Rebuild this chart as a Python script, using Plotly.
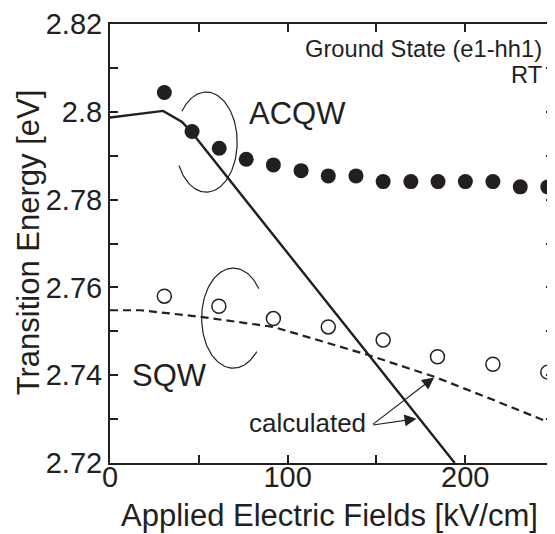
import numpy as np
import plotly.graph_objects as go

# ---- data ----
acqw_field = [30.6, 46.2, 61.5, 76.7, 92.0, 107.6, 122.9, 138.5, 153.8, 169.4, 184.7, 200.1, 215.6, 231.0, 246.5]
acqw_energy = [2.8044, 2.7955, 2.7917, 2.7892, 2.7879, 2.7866, 2.7854, 2.7854, 2.7841, 2.7841, 2.7841, 2.7841, 2.7841, 2.7829, 2.7829]

sqw_field = [30.6, 61.3, 92.0, 122.9, 153.8, 184.4, 215.6, 246.5]
sqw_energy = [2.7580, 2.7557, 2.7529, 2.7510, 2.7480, 2.7442, 2.7425, 2.7407]

acqw_calc_field = [0, 29.9, 40.6, 46.2, 194.1]
acqw_calc_energy = [2.7987, 2.8002, 2.7977, 2.7952, 2.7200]

sqw_calc_field = [0, 17.1, 50.8, 92.0, 145.4, 182.9, 215.0, 250.0]
sqw_calc_energy = [2.7548, 2.7548, 2.7533, 2.7510, 2.7446, 2.7396, 2.7345, 2.7288]

x_ticks = [0, 50, 100, 150, 200, 250]
x_labels = ["0", "", "100", "", "200", ""]
y_ticks = [2.72, 2.73, 2.74, 2.75, 2.76, 2.77, 2.78, 2.79, 2.80, 2.81, 2.82]
y_labels = ["2.72", "", "2.74", "", "2.76", "", "2.78", "", "2.8", "", "2.82"]

INK = "#231f20"
FONT = "Liberation Sans, Arial, Helvetica, sans-serif"

fig = go.Figure()

# ellipse "bracket" arcs (decorations)
def arc(cx, cy, rx, ry, a0, a1):
    t = np.radians(np.linspace(a0, a1, 120))
    return cx + rx * np.cos(t), cy + ry * np.sin(t)

ex, ey = arc(54.2, 2.7931, 17.4, 0.0114, -152, 142)
fig.add_trace(go.Scatter(x=ex, y=ey, mode="lines", line=dict(color=INK, width=1.2),
                         hoverinfo="skip", showlegend=False))
sx, sy = arc(69.4, 2.7530, 17.8, 0.0114, 36, 318)
fig.add_trace(go.Scatter(x=sx, y=sy, mode="lines", line=dict(color=INK, width=1.2),
                         hoverinfo="skip", showlegend=False))

fig.add_trace(go.Scatter(x=acqw_calc_field, y=acqw_calc_energy, mode="lines",
                         line=dict(color=INK, width=2.4), showlegend=False))
fig.add_trace(go.Scatter(x=sqw_calc_field, y=sqw_calc_energy, mode="lines",
                         line=dict(color=INK, width=2.2, dash="8px,5px"), showlegend=False))
fig.add_trace(go.Scatter(x=acqw_field, y=acqw_energy, mode="markers",
                         marker=dict(symbol="circle", size=15, color=INK, line=dict(width=0)),
                         showlegend=False, cliponaxis=False))
fig.add_trace(go.Scatter(x=sqw_field, y=sqw_energy, mode="markers",
                         marker=dict(symbol="circle-open", size=14, color=INK, line=dict(width=1.5)),
                         showlegend=False, cliponaxis=False))

txt = dict(family=FONT, color=INK)
fig.add_annotation(x=77.2, y=2.7995, text="ACQW", showarrow=False, xanchor="left",
                   font=dict(size=31, **txt))
fig.add_annotation(x=11.0, y=2.7400, text="SQW", showarrow=False, xanchor="left",
                   font=dict(size=31, **txt))
fig.add_annotation(x=244.5, y=2.81442, text="Ground State (e1-hh1)", showarrow=False,
                   xanchor="right", font=dict(size=23.7, **txt))
fig.add_annotation(x=244.5, y=2.80849, text="RT", showarrow=False, xanchor="right",
                   font=dict(size=23.7, **txt))
fig.add_annotation(x=145.0, y=2.7291, text="calculated", showarrow=False, xanchor="right",
                   font=dict(size=26, **txt))
for tx, ty in [(182.5, 2.7395), (172.6, 2.7301)]:
    fig.add_annotation(x=tx, y=ty, ax=147.3, ay=2.7286, axref="x", ayref="y",
                       xref="x", yref="y", text="", showarrow=True, arrowhead=2,
                       arrowsize=2.0, arrowwidth=1.2, arrowcolor=INK, standoff=0)

XT = "Applied Electric Fields [kV/cm]"
YT = "Transition Energy [eV]"
fig.add_annotation(x=0.5, y=0, xref="paper", yref="paper", text=XT,
                   showarrow=False, font=dict(size=31, **txt), xanchor="center", yanchor="middle")
fig.add_annotation(x=0, y=0.5, xref="paper", yref="paper", text=YT,
                   textangle=-90, showarrow=False, font=dict(size=31, **txt),
                   xanchor="center", yanchor="middle")

axis_common = dict(showline=True, linecolor=INK, linewidth=2, mirror="ticks",
                   ticks="inside", ticklen=8, tickwidth=1.5, tickcolor=INK,
                   showgrid=False, zeroline=False, automargin=False,
                   tickfont=dict(family=FONT, size=29, color=INK))

fig.update_xaxes(range=[0, 250], tickmode="array", tickvals=x_ticks, ticktext=x_labels,
                 ticklabelstandoff=-13, **axis_common)
fig.update_yaxes(range=[2.72, 2.82], tickmode="array", tickvals=y_ticks, ticktext=y_labels,
                 **axis_common)

# page body has an 8px margin; lay out in page pixels minus that offset
OFF = 8
W, H = 555 - OFF, 534 - OFF
L, T = 110 - OFF, 24 - OFF
R = W - (554.5 - OFF)
B = H - (462.7 - OFF)
fig.update_layout(width=W, height=H, margin=dict(l=L, r=R, t=T, b=B),
                  plot_bgcolor="white", paper_bgcolor="white", showlegend=False)

pw, ph = W - L - R, H - T - B
for a in fig.layout.annotations:
    if a.text == XT:
        a.x = (330 - OFF - L) / pw
        a.y = -(515 - OFF - (T + ph)) / ph
    if a.text == YT:
        a.x = (28 - OFF - L) / pw
        a.y = 1 - (242 - OFF - T) / ph

fig.write_html("out.html")
